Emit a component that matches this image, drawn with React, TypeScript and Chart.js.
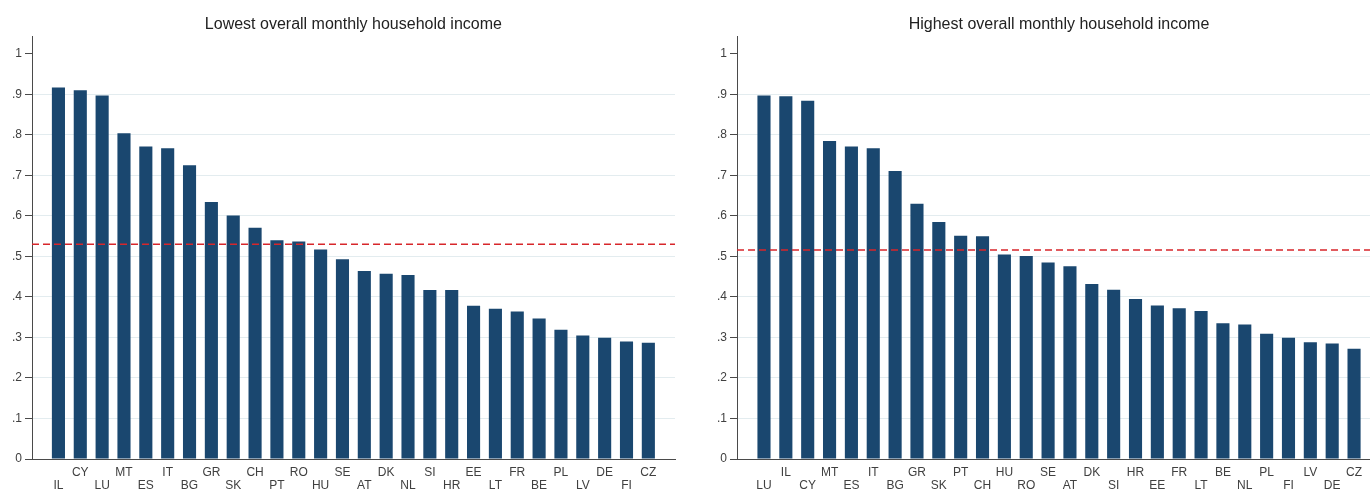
import React, { useEffect, useRef } from "react";
import { Chart, registerables } from "chart.js";

Chart.register(...registerables);

const leftTitle = "Lowest overall monthly household income";
const leftLabels = ["IL","CY","LU","MT","ES","IT","BG","GR","SK","CH","PT","RO","HU","SE","AT","DK","NL","SI","HR","EE","LT","FR","BE","PL","LV","DE","FI","CZ"];
const leftValues = [0.917,0.910,0.897,0.804,0.771,0.767,0.725,0.634,0.601,0.571,0.540,0.537,0.517,0.493,0.464,0.457,0.454,0.417,0.417,0.378,0.371,0.364,0.347,0.319,0.305,0.299,0.290,0.287];
const leftMean = 0.530;

const rightTitle = "Highest overall monthly household income";
const rightLabels = ["LU","IL","CY","MT","ES","IT","BG","GR","SK","PT","CH","HU","RO","SE","AT","DK","SI","HR","EE","FR","LT","BE","NL","PL","FI","LV","DE","CZ"];
const rightValues = [0.897,0.895,0.884,0.785,0.771,0.767,0.711,0.630,0.585,0.551,0.550,0.505,0.501,0.485,0.476,0.432,0.418,0.395,0.379,0.372,0.365,0.335,0.332,0.309,0.299,0.288,0.285,0.272];
const rightMean = 0.516;

const yTickValues = [0, 0.1, 0.2, 0.3, 0.4, 0.5, 0.6, 0.7, 0.8, 0.9, 1];

const FONT = '"Liberation Sans", Arial, Helvetica, sans-serif';
const BAR_COLOR = "#1a476f";
const MEAN_COLOR = "#d7262b";
const AXIS_COLOR = "#4a4a4a";
const GRID_COLOR = "#e3ecef";
const TEXT_COLOR = "#404040";

type PanelProps = {
  title: string;
  labels: string[];
  values: number[];
  mean: number;
  padLeft: number;
  padRight: number;
  xMin: number;
  xMax: number;
};

function fmtTick(v: number): string {
  if (Math.abs(v) < 1e-9) return "0";
  if (Math.abs(v - 1) < 1e-9) return "1";
  return v.toFixed(1).replace(/^0/, "");
}

function Panel(props: PanelProps) {
  const ref = useRef<HTMLCanvasElement | null>(null);
  useEffect(() => {
    if (!ref.current) return;
    const { title, labels, values, mean, padLeft, padRight, xMin, xMax } = props;
    const titlePlugin = {
      id: "panelTitle",
      afterDraw(chart: any) {
        const ctx = chart.ctx;
        const x = chart.scales.x.getPixelForValue((labels.length - 1) / 2);
        ctx.save();
        ctx.font = `16px ${FONT}`;
        ctx.fillStyle = "#222222";
        ctx.textAlign = "center";
        ctx.textBaseline = "alphabetic";
        ctx.fillText(title, x, 29);
        ctx.restore();
      },
    };
    const chart = new Chart(ref.current, {
      type: "bar",
      data: {
        datasets: [
          {
            type: "line",
            data: [
              { x: xMin, y: mean },
              { x: xMax, y: mean },
            ],
            borderColor: MEAN_COLOR,
            borderWidth: 1.5,
            borderDash: [7, 4],
            pointRadius: 0,
            order: 0,
          } as any,
          {
            type: "bar",
            data: values.map((v, i) => ({ x: i, y: v })),
            backgroundColor: BAR_COLOR,
            borderWidth: 0,
            barPercentage: 0.6,
            categoryPercentage: 1,
            order: 1,
          } as any,
        ],
      },
      options: {
        responsive: false,
        animation: false,
        events: [],
        layout: { padding: { top: 36, left: padLeft, right: padRight, bottom: 0 } },
        plugins: {
          legend: { display: false },
          tooltip: { enabled: false },
          title: { display: false },
        },
        scales: {
          x: {
            type: "linear",
            offset: false,
            min: xMin,
            max: xMax,
            afterBuildTicks: (axis: any) => {
              axis.ticks = labels.map((_, i) => ({ value: i }));
            },
            afterFit: (scale: any) => {
              scale.height = 30;
            },
            grid: { display: false, drawTicks: false, offset: false },
            border: { display: true, color: AXIS_COLOR, width: 1 },
            ticks: {
              autoSkip: false,
              maxRotation: 0,
              minRotation: 0,
              padding: 7,
              color: TEXT_COLOR,
              font: { family: FONT, size: 12, lineHeight: 1.08 },
              callback: (value: any) => {
                const i = Math.round(Number(value));
                const lab = labels[i];
                if (lab === undefined) return "";
                return i % 2 === 0 ? ["", lab] : [lab];
              },
            },
          },
          y: {
            type: "linear",
            min: 0,
            max: 1.044,
            afterBuildTicks: (axis: any) => {
              axis.ticks = yTickValues.map((v) => ({ value: v }));
            },
            afterFit: (scale: any) => {
              scale.width = 32;
            },
            grid: {
              color: (ctx: any) => {
                const v = ctx.tick ? ctx.tick.value : 0;
                return v === 0 || v === 1 ? "rgba(0,0,0,0)" : GRID_COLOR;
              },
              lineWidth: 1,
              drawTicks: true,
              tickLength: 7,
              tickColor: AXIS_COLOR,
            },
            border: { display: true, color: AXIS_COLOR, width: 1 },
            ticks: {
              padding: 3,
              color: TEXT_COLOR,
              font: { family: FONT, size: 12 },
              callback: (value: any) => fmtTick(Number(value)),
            },
          },
        },
      },
      plugins: [titlePlugin],
    } as any);
    return () => chart.destroy();
  }, []);
  return <canvas ref={ref} width={685} height={489} style={{ display: "block" }} />;
}

export default function App() {
  return (
    <div
      style={{
        position: "fixed",
        left: 0,
        top: 0,
        width: 1370,
        height: 489,
        display: "flex",
        background: "#ffffff",
      }}
    >
      <Panel
        title={leftTitle}
        labels={leftLabels}
        values={leftValues}
        mean={leftMean}
        padLeft={0}
        padRight={10}
        xMin={-1.21}
        xMax={28.22}
      />
      <Panel
        title={rightTitle}
        labels={rightLabels}
        values={rightValues}
        mean={rightMean}
        padLeft={20}
        padRight={0}
        xMin={-1.235}
        xMax={27.73}
      />
    </div>
  );
}
